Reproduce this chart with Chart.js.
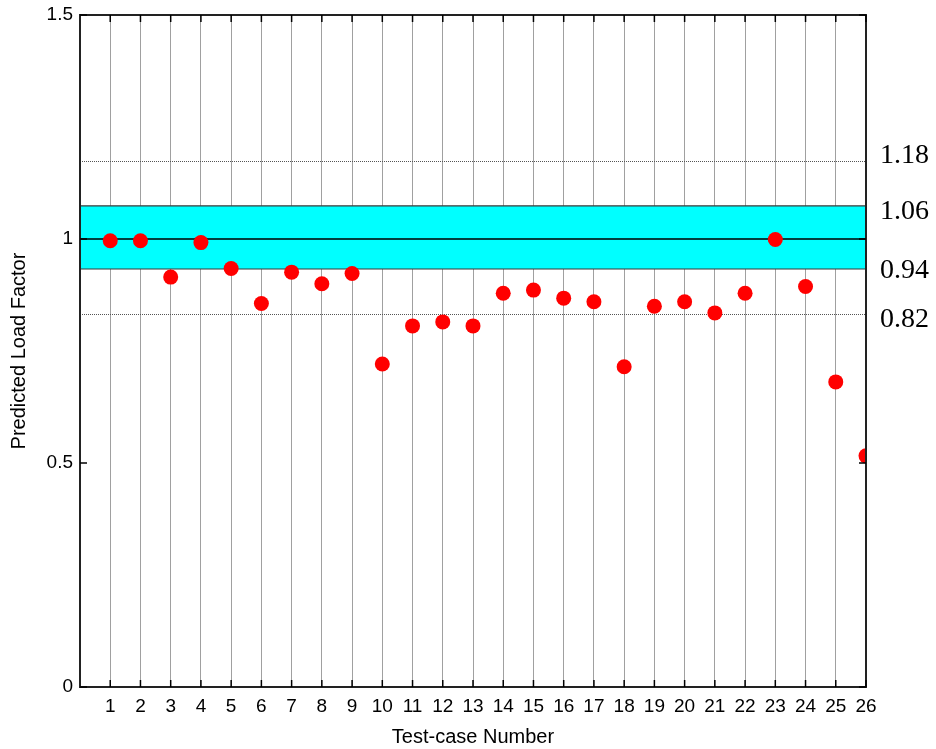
<!DOCTYPE html>
<html>
<head>
<meta charset="utf-8">
<script src="https://cdn.jsdelivr.net/npm/chart.js@4"></script>
<style>
  html, body { margin: 0; padding: 0; background: #ffffff; }
  #wrap { width: 936px; height: 749px; }
</style>
</head>
<body>
<div id="wrap"><canvas id="c" width="936" height="749"></canvas></div>
<script>
// ---- data ----
const testCases = [1,2,3,4,5,6,7,8,9,10,11,12,13,14,15,16,17,18,19,20,21,22,23,24,25,26];
const loadFactor = [0.996,0.996,0.915,0.992,0.934,0.856,0.926,0.900,0.923,0.721,0.806,0.815,0.806,
                    0.879,0.886,0.868,0.860,0.715,0.850,0.860,0.835,0.879,0.999,0.894,0.681,0.516];
const yTicks = [0, 0.5, 1, 1.5];
const bandLow = 0.933, bandHigh = 1.074;
const outerLow = 0.832, outerHigh = 1.175;
const refLine = 1.0;
const sideLabels = ['1.18', '1.06', '0.94', '0.82'];
const sideLabelValues = [1.187, 1.062, 0.929, 0.82];

const points = testCases.map((x, i) => ({ x: x, y: loadFactor[i] }));

const overlay = {
  id: 'overlay',
  beforeDatasetsDraw(chart) {
    const ctx = chart.ctx, a = chart.chartArea;
    const ys = chart.scales.y;
    ctx.save();
    // band (covers grid)
    const yt = ys.getPixelForValue(bandHigh), yb = ys.getPixelForValue(bandLow);
    ctx.fillStyle = '#00ffff';
    ctx.fillRect(a.left, yt, a.right - a.left, yb - yt);
    // band borders
    ctx.strokeStyle = '#3a3a3a';
    ctx.lineWidth = 1.2;
    [yt, yb].forEach(y => { ctx.beginPath(); ctx.moveTo(a.left, y); ctx.lineTo(a.right, y); ctx.stroke(); });
    // reference line at 1
    const y1 = ys.getPixelForValue(refLine);
    ctx.strokeStyle = '#000';
    ctx.lineWidth = 1.3;
    ctx.beginPath(); ctx.moveTo(a.left, y1); ctx.lineTo(a.right, y1); ctx.stroke();
    // outer dotted lines
    ctx.strokeStyle = '#555';
    ctx.lineWidth = 1;
    ctx.setLineDash([1, 1]);
    [outerHigh, outerLow].forEach(v => {
      const y = Math.round(ys.getPixelForValue(v)) + 0.5;
      ctx.beginPath(); ctx.moveTo(a.left, y); ctx.lineTo(a.right, y); ctx.stroke();
    });
    ctx.setLineDash([]);
    ctx.restore();
  },
  afterDraw(chart) {
    const ctx = chart.ctx, a = chart.chartArea;
    const xs = chart.scales.x, ys = chart.scales.y;
    ctx.save();
    // box
    ctx.strokeStyle = '#222';
    ctx.lineWidth = 2;
    ctx.strokeRect(a.left, a.top, a.right - a.left, a.bottom - a.top);
    // inward ticks
    ctx.lineWidth = 1.5;
    ctx.strokeStyle = '#000';
    testCases.forEach(v => {
      const px = xs.getPixelForValue(v);
      ctx.beginPath(); ctx.moveTo(px, a.bottom); ctx.lineTo(px, a.bottom - 7); ctx.stroke();
      ctx.beginPath(); ctx.moveTo(px, a.top); ctx.lineTo(px, a.top + 7); ctx.stroke();
    });
    yTicks.forEach(v => {
      const py = ys.getPixelForValue(v);
      ctx.beginPath(); ctx.moveTo(a.left, py); ctx.lineTo(a.left + 7, py); ctx.stroke();
      ctx.beginPath(); ctx.moveTo(a.right, py); ctx.lineTo(a.right - 7, py); ctx.stroke();
    });
    // side labels
    ctx.fillStyle = '#000';
    ctx.font = '28px "Liberation Serif", "Times New Roman", serif';
    ctx.textAlign = 'left';
    ctx.textBaseline = 'middle';
    sideLabels.forEach((t, i) => {
      ctx.fillText(t, a.right + 14, ys.getPixelForValue(sideLabelValues[i]));
    });
    ctx.restore();
  }
};

new Chart(document.getElementById('c'), {
  type: 'scatter',
  data: {
    datasets: [{
      data: points,
      backgroundColor: '#ff0000',
      borderColor: '#ff0000',
      borderWidth: 0,
      pointRadius: 7.5,
      pointHoverRadius: 7.5
    }]
  },
  options: {
    responsive: false,
    animation: false,
    devicePixelRatio: 1,
    layout: { padding: { top: 15, right: 70, left: 0, bottom: 0 } },
    plugins: { legend: { display: false }, tooltip: { enabled: false } },
    scales: {
      x: {
        type: 'linear',
        min: 0, max: 26,
        afterBuildTicks(scale) { scale.ticks = testCases.map(v => ({ value: v })); },
        afterFit(scale) { scale.height = 62; scale.paddingLeft = 0; scale.paddingRight = 0; },
        grid: { display: true, color: '#a0a0a0', lineWidth: 1, drawTicks: false, drawOnChartArea: true },
        border: { display: false },
        ticks: {
          padding: 8,
          color: '#000',
          autoSkip: false,
          maxRotation: 0,
          font: { family: '"Liberation Sans", Arial, sans-serif', size: 19 },
          callback: v => String(v)
        },
        title: {
          display: true,
          text: 'Test-case Number',
          color: '#000',
          padding: { top: 2, bottom: 0 },
          font: { family: '"Liberation Sans", Arial, sans-serif', size: 20 }
        }
      },
      y: {
        min: 0, max: 1.5,
        afterBuildTicks(scale) { scale.ticks = yTicks.map(v => ({ value: v })); },
        afterFit(scale) { scale.width = 80; scale.paddingTop = 0; scale.paddingBottom = 0; },
        grid: { display: false, drawTicks: false },
        border: { display: false },
        ticks: {
          padding: 7,
          color: '#000',
          font: { family: '"Liberation Sans", Arial, sans-serif', size: 19 },
          callback: v => String(v)
        },
        title: {
          display: true,
          text: 'Predicted Load Factor',
          color: '#000',
          padding: { top: 7, bottom: 0 },
          font: { family: '"Liberation Sans", Arial, sans-serif', size: 20 }
        }
      }
    }
  },
  plugins: [overlay]
});
</script>
</body>
</html>
